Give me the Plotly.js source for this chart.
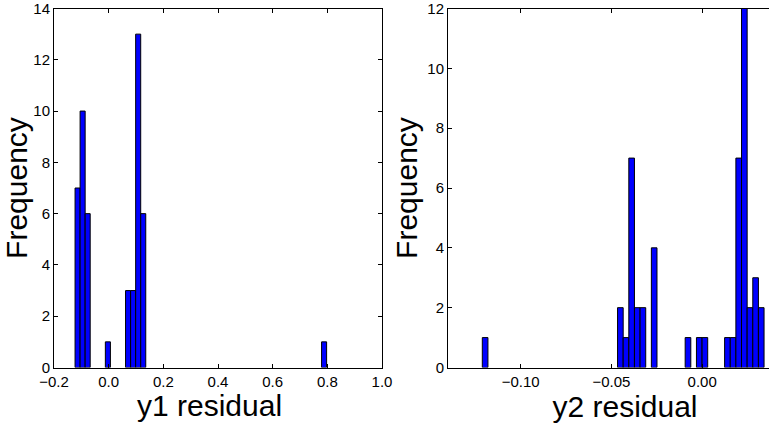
<!DOCTYPE html>
<html>
<head>
<meta charset="utf-8">
<script src="https://cdn.plot.ly/plotly-3.0.1.min.js"></script>
<style>
  html, body { margin: 0; padding: 0; overflow: hidden; background: #fff; }
  #chart { width: 810px; height: 425px; }
</style>
</head>
<body>
<div id="chart"></div>
<script>
// ---- Data (histogram bins with non-zero counts) ----
const y1BinCenters = [-0.11376, -0.09528, -0.0768, -0.00288, 0.07104, 0.08952, 0.108, 0.12648, 0.78816];
const y1Counts     = [7, 10, 6, 1, 3, 3, 13, 6, 1];
const y1BinWidth   = 0.01848;

const y2BinCenters = [-0.11955, -0.045052, -0.041948, -0.038844, -0.03574, -0.032636, -0.026428,
                      -0.007804, -0.001596, 0.001508, 0.013924, 0.017028, 0.020132, 0.023236,
                      0.02634, 0.029444, 0.032548];
const y2Counts     = [1, 2, 1, 7, 2, 2, 4, 1, 1, 1, 1, 1, 7, 12, 2, 3, 2];
const y2BinWidth   = 0.003104;

const y1TickVals = [-0.2, 0.0, 0.2, 0.4, 0.6, 0.8, 1.0];
const y2TickVals = [-0.10, -0.05, 0.00];
const y1CountTicks = [0, 2, 4, 6, 8, 10, 12, 14];
const y2CountTicks = [0, 2, 4, 6, 8, 10, 12];

const font = "Liberation Sans, Arial, Helvetica, sans-serif";
const barStyle = { color: "#0000ff", line: { color: "#000000", width: 1 } };

const traces = [
  { type: "bar", x: y1BinCenters, y: y1Counts,
    width: y1BinCenters.map(() => y1BinWidth),
    marker: barStyle, xaxis: "x", yaxis: "y", hoverinfo: "x+y" },
  { type: "bar", x: y2BinCenters, y: y2Counts,
    width: y2BinCenters.map(() => y2BinWidth),
    marker: barStyle, xaxis: "x2", yaxis: "y2", hoverinfo: "x+y" }
];

const axisCommon = {
  showgrid: false, zeroline: false,
  showline: true, linecolor: "#000", linewidth: 1,
  ticks: "inside", ticklen: 4, tickcolor: "#000", tickwidth: 1,
  tickfont: { family: font, size: 15, color: "#000" },
  ticklabeloverflow: "allow",
  fixedrange: true
};

const W = 810, H = 425;
const yDom = [(H - 367.5) / H, (H - 8.5) / H];
const titleFont = { family: font, size: 30, color: "#000" };

const layout = {
  width: W, height: H,
  margin: { l: 0, r: 0, t: 0, b: 0, pad: 0 },
  paper_bgcolor: "#fff", plot_bgcolor: "#fff",
  showlegend: false,
  bargap: 0,
  font: { family: font, color: "#000" },
  xaxis: Object.assign({}, axisCommon, {
    domain: [54 / W, 382 / W], range: [-0.2, 1.0],
    tickvals: y1TickVals, tickformat: ".1f", mirror: "ticks",
    anchor: "y"
  }),
  yaxis: Object.assign({}, axisCommon, {
    domain: yDom, range: [0, 14],
    tickvals: y1CountTicks, mirror: "ticks", anchor: "x",
    title: { text: "Frequency", font: titleFont, standoff: 0 }
  }),
  xaxis2: Object.assign({}, axisCommon, {
    domain: [448 / W, 802 / W], range: [-0.14, 0.055],
    tickvals: y2TickVals, tickformat: ".2f", mirror: "ticks",
    anchor: "y2",
    title: { text: "y2 residual", font: titleFont, standoff: 1 }
  }),
  yaxis2: Object.assign({}, axisCommon, {
    domain: yDom, range: [0, 12],
    tickvals: y2CountTicks, mirror: "ticks", anchor: "x2",
    title: { text: "Frequency", font: titleFont, standoff: 0 }
  }),
  annotations: [
    { text: "y1 residual", xref: "paper", yref: "paper",
      x: 209 / W, y: 1 - 405 / H, xanchor: "center", yanchor: "middle",
      showarrow: false, font: titleFont }
  ]
};

Plotly.newPlot("chart", traces, layout, { displayModeBar: false, staticPlot: true });
</script>
</body>
</html>
